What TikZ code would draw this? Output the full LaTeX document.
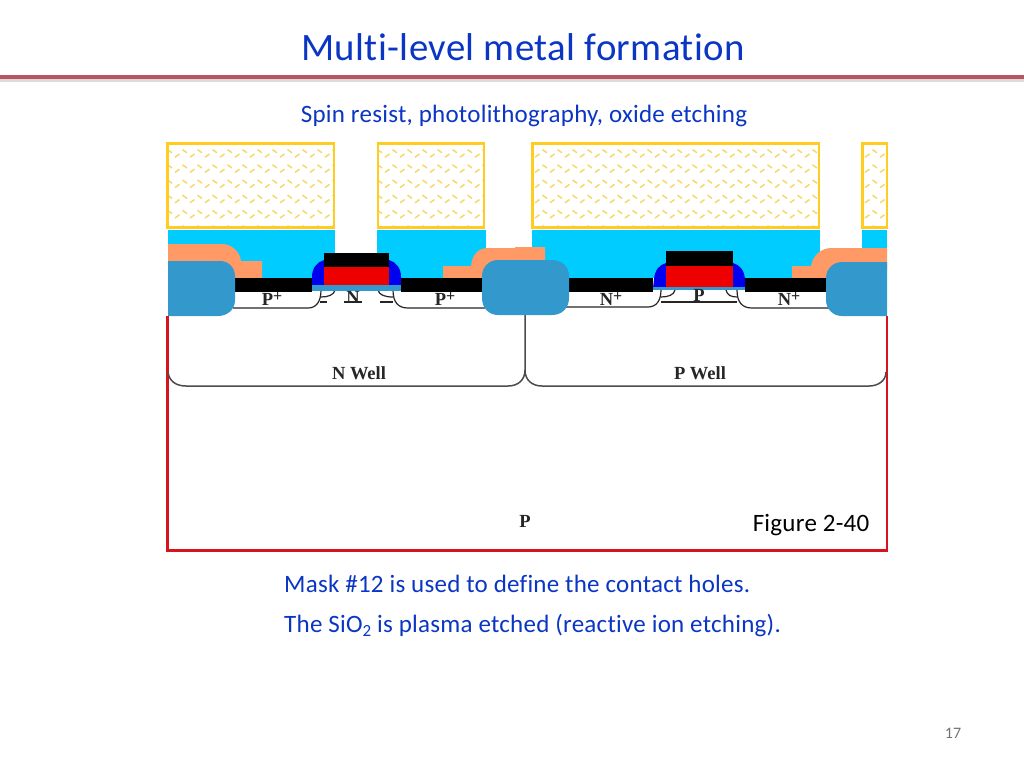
\documentclass[tikz,border=0pt]{standalone}
\usepackage{fontspec}
\setmainfont{Carlito}
\newfontfamily\titlefont[LetterSpace=1,Ligatures={NoCommon,NoRequired,NoContextual}]{Carlito}
\newfontfamily\subfont[LetterSpace=1,Ligatures={NoCommon,NoRequired,NoContextual}]{Carlito}
\newfontfamily\labelfont{Liberation Serif}[BoldFont={Liberation Serif Bold}]
\definecolor{slideblue}{HTML}{0B36C4}
\definecolor{rulered}{HTML}{B9555E}
\definecolor{resistline}{HTML}{FFCC22}
\definecolor{resisthatch}{HTML}{F7D868}
\definecolor{oxcyan}{HTML}{00CCFF}
\definecolor{nitorange}{HTML}{FF9966}
\definecolor{locos}{HTML}{3399CC}
\definecolor{spacer}{HTML}{0000EE}
\definecolor{polyred}{HTML}{EE0000}
\definecolor{boxred}{HTML}{D5141C}
\newcommand{\devfont}{\labelfont\bfseries\fontsize{18.5}{20}\selectfont}
\newcommand{\plusup}{\raisebox{4.5pt}{\fontsize{16}{16}\selectfont +}}
\tikzset{
  slidetext/.style={text=slideblue,inner sep=0pt},
  dev/.style={inner sep=0pt,font=\devfont,text=black!85},
  junction/.style={draw=black!85,line width=1.2pt},
  wellline/.style={draw=black!70,line width=1.5pt},
  resistbox/.style={draw=resistline,line width=2.2pt}
}
\newcommand{\resist}[4]{%
  \begin{scope}
    \clip (#1,#3) rectangle (#2,#4);
    \foreach \ix in {0,...,50} \foreach \iy in {0,...,12} {
      \pgfmathsetmacro{\px}{160+\ix*15+mod(\iy,2)*7.5}
      \pgfmathsetmacro{\py}{142+\iy*7.6}
      \ifodd\iy
        \draw[resisthatch,line width=1.5pt] (\px,\py) -- ++(4.5,3.2);
      \else
        \draw[resisthatch,line width=1.5pt] (\px,\py) -- ++(4.5,-3.2);
      \fi
    }
  \end{scope}
  \draw[resistbox] (#1,#3) rectangle (#2,#4);
}
\begin{document}
\begin{tikzpicture}[x=1pt,y=-1pt]
\useasboundingbox (0,0) rectangle (1024,768);
\fill[white] (0,0) rectangle (1024,768);
% title and rule
\fill[black!14] (0,78) rectangle (1024,82);
\fill[rulered] (0,74.5) rectangle (1024,78.8);
\node[slidetext,font=\titlefont\fontsize{38.8}{42}\selectfont] (title) at (523,47) {Multi-level metal formation};
\node[slidetext,font=\subfont\fontsize{25}{28}\selectfont] (sub) at (524,116) {Spin resist, photolithography, oxide etching};
% substrate box and wells
\draw[boxred,line width=2.1pt] (167.5,316) -- (167.5,550.5) -- (887,550.5) -- (887,316);
\draw[wellline] (168,372) .. controls (169,381) and (176,386) .. (186,386) -- (508,386) .. controls (518,386) and (525,380) .. (525,370) -- (525,315);
\draw[wellline] (525,370) .. controls (525,380) and (532,386) .. (542,386) -- (869,386) .. controls (879,386) and (886,380) .. (886,372);
% resist
\resist{167.5}{334}{143.5}{227.5}
\resist{378}{484}{143.5}{227.5}
\resist{532.5}{819}{143.5}{227.5}
\resist{862.5}{887}{143.5}{227.5}
% oxide
\fill[oxcyan] (168,230) rectangle (335,278);
\fill[oxcyan] (377,230) rectangle (486,278);
\fill[oxcyan] (532,230) rectangle (820,278);
\fill[oxcyan] (862,230) rectangle (887,252);
% orange layer
\fill[nitorange] (168,244) -- (222,244) .. controls (232,244) and (240,252) .. (241,261) -- (262,261) -- (262,278) -- (225,278) -- (225,270) -- (168,270) -- cycle;
\fill[nitorange] (443,266) -- (471,266) .. controls (472,255) and (478,248) .. (488,248) -- (515,248) -- (515,247) -- (545,247) -- (545,265) -- (490,278) -- (443,278) -- cycle;
\fill[nitorange] (792,266) -- (811,266) .. controls (813,255) and (821,248) .. (832,248) -- (887,248) -- (887,270) -- (830,278) -- (792,278) -- cycle;
% junctions, left device
\draw[junction] (233,308) -- (308,308) .. controls (316,308) and (321,302) .. (321,290);
\draw[junction] (320,302) -- (327,302) (344,302) -- (362,302) (380,302) -- (393,302);
\draw[junction] (321,297) .. controls (328,297) and (334,295) .. (335,290);
\draw[junction] (378,290) .. controls (379,295) and (385,297) .. (393,297);
\draw[junction] (393,290) .. controls (393,302) and (398,308) .. (408,308) -- (485,308);
% junctions, right device
\draw[junction] (566,307) -- (648,307) .. controls (656,307) and (661,301) .. (661,290);
\draw[junction,line width=1.7pt] (661,302) -- (737,302);
\draw[junction] (661,297) .. controls (668,297) and (674,295) .. (675,290);
\draw[junction] (726,290) .. controls (727,295) and (731,297) .. (737,297);
\draw[junction] (737,290) .. controls (737,302) and (742,308) .. (752,308) -- (830,308);
% black contacts
\fill[black] (233,278) rectangle (312,292);
\fill[black] (401,278) rectangle (483,292);
\fill[black] (567,278) rectangle (653,292);
\fill[black] (745,278) rectangle (828,292);
% field oxide
\fill[locos] (168,261) -- (220,261) .. controls (229,261) and (235,268) .. (235,276) -- (235,300) .. controls (235,310) and (227,316) .. (218,316) -- (168,316) -- cycle;
\fill[locos] (498,260) -- (552,260) .. controls (562,260) and (569,267) .. (569,276) -- (569,298) .. controls (569,308) and (562,315) .. (552,315) -- (498,315) .. controls (489,315) and (482,308) .. (482,298) -- (482,276) .. controls (482,267) and (489,260) .. (498,260) -- cycle;
\fill[locos] (842,262) -- (887,262) -- (887,316) -- (842,316) .. controls (833,316) and (826,309) .. (826,300) -- (826,278) .. controls (826,269) and (833,262) .. (842,262) -- cycle;
% left gate
\fill[spacer] (312,285) -- (312,277) .. controls (312,268) and (317,262) .. (324,260) -- (389,260) .. controls (396,262) and (401,268) .. (401,277) -- (401,285) -- cycle;
\fill[locos] (312,285) rectangle (401,291);
\fill[polyred] (324,267) rectangle (389,285);
\fill[black] (324,253) rectangle (389,267);
% right gate
\fill[spacer] (653,288) -- (654,279) .. controls (655,270) and (659,265) .. (666,263) -- (733,263) .. controls (740,265) and (744,270) .. (745,279) -- (745,288) -- cycle;
\fill[locos] (653,287) rectangle (745,290);
\fill[polyred] (666,266) rectangle (733,287);
\fill[black] (666,251) rectangle (733,266);
% device labels
\node[dev] (pa) at (272,299) {P\plusup};
\node[dev] (n1) at (353,297) {N};
\node[dev] (pb) at (445,299) {P\plusup};
\node[dev] (na) at (611,299) {N\plusup};
\node[dev] (p1) at (699,295) {P};
\node[dev] (nb) at (789,299) {N\plusup};
\node[dev] (nw) at (359,373) {N Well};
\node[dev] (pw) at (700,373) {P Well};
\node[dev] (sub1) at (525,521) {P};
\node[inner sep=0pt,font=\subfont\fontsize{25}{28}\selectfont] (fig) at (811,525) {Figure 2-40};
% text
\node[slidetext,anchor=west,font=\subfont\fontsize{25}{28}\selectfont] (m1) at (284,584) {Mask \#12 is used to define the contact holes.};
\node[slidetext,anchor=west,font=\subfont\fontsize{25}{28}\selectfont] (m2) at (284,625) {The SiO\raisebox{-4pt}{\fontsize{17}{17}\selectfont 2} is plasma etched (reactive ion etching).};
\node[inner sep=0pt,text=black!55,font=\fontsize{16}{18}\selectfont] (pg) at (953,733) {17};
\end{tikzpicture}
\end{document}
